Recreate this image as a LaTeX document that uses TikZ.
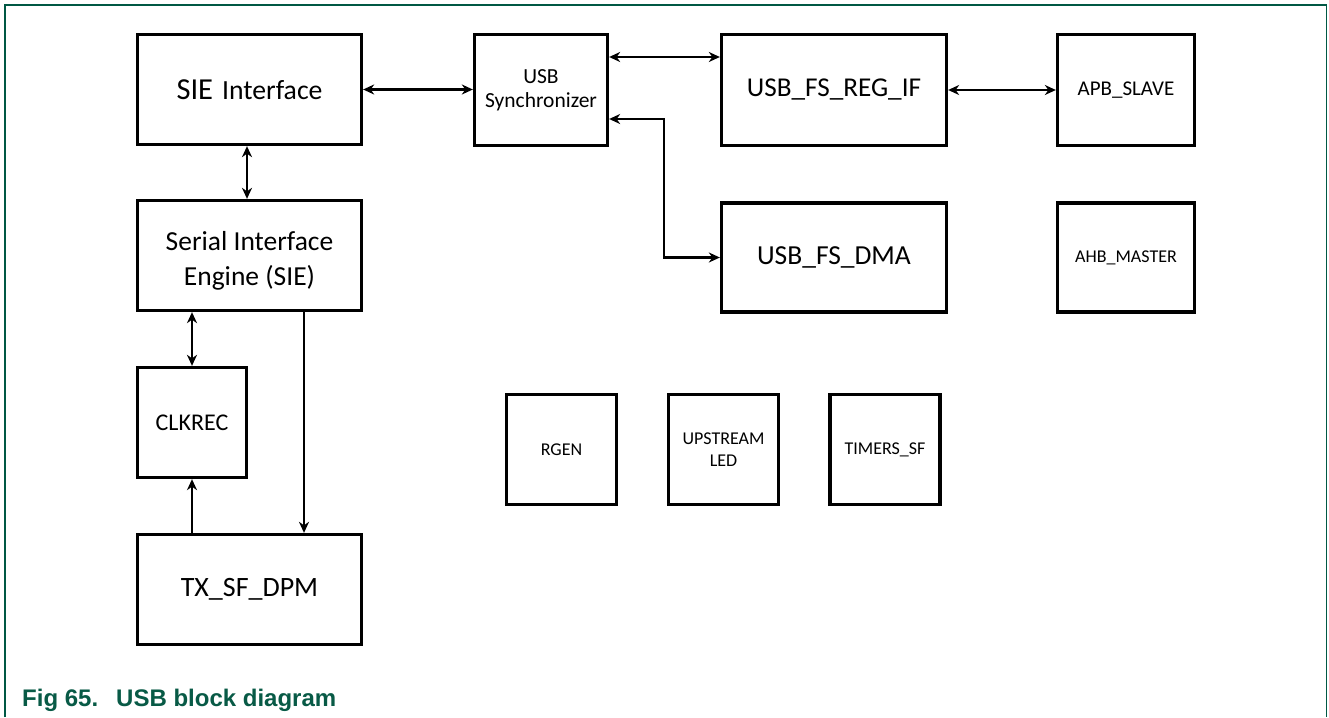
\documentclass[tikz,border=0pt]{standalone}
\usepackage{fontspec}
\setmainfont{Carlito}
\newfontfamily\capfont{Liberation Sans}
\usetikzlibrary{arrows.meta}
\definecolor{nxpgreen}{RGB}{0,88,68}
\definecolor{capgreen}{RGB}{8,90,70}
\tikzset{
  blk/.style={draw=black, line width=3.3pt, fill=white, align=center, inner sep=0pt},
  conn/.style={line width=2.2pt, -{Stealth[length=11pt,width=10pt,inset=3.5pt]}},
  biconn/.style={line width=2.2pt, {Stealth[length=11pt,width=10pt,inset=3.5pt]}-{Stealth[length=11pt,width=10pt,inset=3.5pt]}},
  frameline/.style={draw=nxpgreen, line width=1.6pt}
}
\newcommand{\fs}[1]{\fontsize{#1}{#1}\selectfont}
\begin{document}
\begin{tikzpicture}[x=1pt,y=-1pt]
\useasboundingbox (0,0) rectangle (1329,717);
\fill[white] (0,0) rectangle (1329,717);
\draw[frameline] (5,717) -- (5,5) -- (1326.5,5) -- (1326.5,717);

% boxes
\node[blk, minimum width=224pt, minimum height=110pt] (sieif) at (249.5,89.5) {{\fs{30.5}SIE}\hspace{9pt}{\fs{27.7}Interface}};
\node[blk, minimum width=133pt, minimum height=111pt, font=\fs{21.5}, align=center] (sync) at (541,90) {USB\\[2.5pt]Synchronizer};
\node[blk, minimum width=225pt, minimum height=111pt, font=\fs{27.2}] (regif) at (834,90) {USB\_FS\_REG\_IF};
\node[blk, minimum width=137pt, minimum height=111pt, font=\fs{21}] (apb) at (1126,90) {APB\_SLAVE};
\node[blk, minimum width=224pt, minimum height=110pt, font=\fs{27.5}] (serial) at (249.5,255.5) {\rule{0pt}{30pt}Serial Interface\\[7.5pt]Engine (SIE)};
\node[blk, minimum width=225pt, minimum height=109pt, font=\fs{27.5}] (dma) at (834,257.5) {USB\_FS\_DMA};
\node[blk, minimum width=137pt, minimum height=109pt, font=\fs{18}] (ahb) at (1126,257.5) {AHB\_MASTER};
\node[blk, minimum width=109pt, minimum height=110pt, font=\fs{24}] (clkrec) at (192,422.5) {CLKREC};
\node[blk, minimum width=224pt, minimum height=110pt, font=\fs{28}] (tx) at (249.5,589.5) {TX\_SF\_DPM};
\node[blk, minimum width=110pt, minimum height=110pt, font=\fs{18}] (rgen) at (561.5,449.5) {RGEN};
\node[blk, minimum width=110pt, minimum height=110pt, font=\fs{18}] (up) at (723.5,449.5) {UPSTREAM\\[4pt]LED};
\node[blk, minimum width=110pt, minimum height=110pt, font=\fs{18}] (timers) at (885,449.5) {TIMERS\_SF};

% connectors
\draw[biconn] (sieif.east) -- (sync.west |- sieif.east);
\draw[biconn] (sync.east |- 0,57) -- (regif.west |- 0,57);
\draw[biconn] (regif.east) -- (apb.west);
\draw[biconn] (sync.east |- 0,119) -| (664,257.5) -- (dma.west);
\draw[biconn] (sieif.south -| 247,0) -- (serial.north -| 247,0);
\draw[biconn] (serial.south -| clkrec.north) -- (clkrec.north);
\draw[conn] (tx.north -| clkrec.south) -- (clkrec.south);
\draw[conn] (serial.south -| 304,0) -- (tx.north -| 304,0);

% caption
\node[anchor=base west, inner sep=0pt, font=\capfont\bfseries\fontsize{24}{24}\selectfont, text=capgreen] (cap) at (22,706) {Fig 65.\hspace{18pt}USB block diagram};
\end{tikzpicture}
\end{document}
